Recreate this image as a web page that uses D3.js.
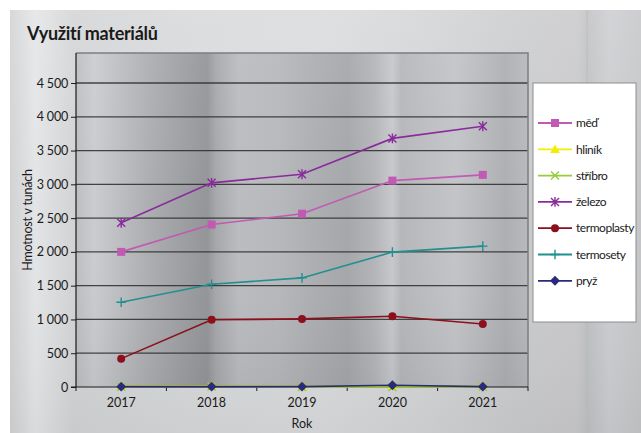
<!DOCTYPE html>
<html>
<head>
<meta charset="utf-8">
<script src="https://cdn.jsdelivr.net/npm/d3@7"></script>
<style>
  html, body { margin: 0; padding: 0; background: #ffffff; }
  svg { display: block; }
  text { font-family: Lato, "Open Sans", sans-serif; fill: #1a1a1a; }
</style>
</head>
<body>
<svg id="chart" width="641" height="433"></svg>
<script>
// Roky na ose X
const years = ["2017", "2018", "2019", "2020", "2021"];

// Série – hmotnost v tunách
const med         = [2000, 2405, 2565, 3055, 3140];
const hlinik      = [15, 15, 5, 8, 5];
const stribro     = [5, 8, 0, 0, 5];
const zelezo      = [2430, 3022, 3150, 3680, 3860];
const termoplasty = [420, 995, 1008, 1048, 932];
const termosety   = [1255, 1522, 1615, 1997, 2085];
const pryz        = [5, 5, 5, 25, 5];

// Popisky osy Y
const yTicks = [0, 500, 1000, 1500, 2000, 2500, 3000, 3500, 4000, 4500];

const series = [
  { name: "měď",         values: med,         color: "#c25ab4", marker: "square" },
  { name: "hliník",      values: hlinik,      color: "#f2ee00", marker: "triangle" },
  { name: "stříbro",     values: stribro,     color: "#97cc3a", marker: "x" },
  { name: "železo",      values: zelezo,      color: "#8a2b9c", marker: "star" },
  { name: "termoplasty", values: termoplasty, color: "#8c0f1c", marker: "circle" },
  { name: "termosety",   values: termosety,   color: "#21908f", marker: "plus" },
  { name: "pryž",        values: pryz,        color: "#2a2a7c", marker: "diamond" }
];

const svg = d3.select("#chart");
const defs = svg.append("defs");

// Kovový podklad celého grafu
const outerGrad = defs.append("linearGradient").attr("id", "outerGrad")
  .attr("x1", "0").attr("y1", "0").attr("x2", "1").attr("y2", "0");
[[0, "#cfd1d3"], [0.04, "#e3e4e6"], [0.1, "#d2d3d5"], [0.3, "#d7d8da"], [0.5, "#d9dadc"],
 [0.65, "#d3d4d6"], [0.8, "#cacbcd"], [0.9, "#c8c8ca"], [0.915, "#bfc0c2"], [0.95, "#cbcccf"], [1, "#c4c5c7"]]
  .forEach(([o, c]) => outerGrad.append("stop").attr("offset", o).attr("stop-color", c));

const outerShade = defs.append("linearGradient").attr("id", "outerShade")
  .attr("x1", "0").attr("y1", "0").attr("x2", "0").attr("y2", "1");
[[0, "#ffffff", 0.15], [0.5, "#ffffff", 0], [1, "#000000", 0.04]]
  .forEach(([o, c, a]) => outerShade.append("stop").attr("offset", o).attr("stop-color", c).attr("stop-opacity", a));

// Broušený kov v ploše grafu
const plotGrad = defs.append("linearGradient").attr("id", "plotGrad")
  .attr("x1", "0").attr("y1", "0").attr("x2", "1").attr("y2", "0");
[[0, "#bcbec1"], [0.04, "#cacccf"], [0.08, "#c0c2c5"], [0.16, "#acaeb1"], [0.24, "#9c9ea1"],
 [0.29, "#939598"], [0.31, "#a6a8ab"], [0.36, "#babcbf"], [0.45, "#b6b8bb"], [0.52, "#adafb2"],
 [0.6, "#a5a7aa"], [0.66, "#b3b5b8"], [0.7, "#c6c8cb"], [0.72, "#b5b7ba"], [0.78, "#bcbec1"],
 [0.84, "#c2c4c7"], [0.9, "#b7b9bc"], [0.95, "#adafb2"], [1, "#b7b9bc"]]
  .forEach(([o, c]) => plotGrad.append("stop").attr("offset", o).attr("stop-color", c));

const plotShade = defs.append("linearGradient").attr("id", "plotShade")
  .attr("x1", "0").attr("y1", "0").attr("x2", "0").attr("y2", "1");
[[0, "#ffffff", 0.06], [0.5, "#ffffff", 0], [1, "#000000", 0.05]]
  .forEach(([o, c, a]) => plotShade.append("stop").attr("offset", o).attr("stop-color", c).attr("stop-opacity", a));

// Podklad
svg.append("rect").attr("x", 10).attr("y", 10).attr("width", 631).attr("height", 423).attr("fill", "url(#outerGrad)");
svg.append("rect").attr("x", 10).attr("y", 10).attr("width", 631).attr("height", 423).attr("fill", "url(#outerShade)");
svg.append("line").attr("x1", 587).attr("x2", 587).attr("y1", 10).attr("y2", 433)
  .attr("stroke", "#b8b9bb").attr("stroke-width", 1).attr("opacity", 0.6);

// Plocha grafu
const plot = { left: 76, right: 528, top: 53, bottom: 387 };
svg.append("rect").attr("x", plot.left).attr("y", plot.top)
  .attr("width", plot.right - plot.left).attr("height", plot.bottom - plot.top)
  .attr("fill", "url(#plotGrad)");
svg.append("rect").attr("x", plot.left).attr("y", plot.top)
  .attr("width", plot.right - plot.left).attr("height", plot.bottom - plot.top)
  .attr("fill", "url(#plotShade)");

const x = d3.scaleBand().domain(years).range([plot.left, plot.right]).padding(0);
const y = d3.scaleLinear().domain([0, 4500]).range([plot.bottom, 83]);
const cx = d => x(d) + x.bandwidth() / 2;

// Mřížka
svg.append("g").selectAll("line").data(yTicks.filter(t => t > 0)).join("line")
  .attr("x1", plot.left).attr("x2", plot.right)
  .attr("y1", d => y(d)).attr("y2", d => y(d))
  .attr("stroke", "#2b2b2b").attr("stroke-width", 1.3).attr("opacity", 0.85);

// Okraj plochy (nahoře a vpravo)
svg.append("path")
  .attr("d", `M${plot.left},${plot.top}H${plot.right}V${plot.bottom}`)
  .attr("fill", "none").attr("stroke", "#7c7d80").attr("stroke-width", 1.5);

// Osa Y
const loc = d3.formatLocale({ decimal: ",", thousands: "\u00a0", grouping: [3], currency: ["", ""] });
const yAxis = svg.append("g").attr("transform", `translate(${plot.left},0)`)
  .call(d3.axisLeft(y).tickValues(yTicks).tickFormat(loc.format(",d")).tickSize(5).tickPadding(3));
yAxis.select(".domain").remove();
yAxis.selectAll("line").attr("stroke", "#1a1a1a");
yAxis.selectAll("text").attr("font-size", 12.5).attr("fill", "#1a1a1a").attr("letter-spacing", -0.2);
svg.append("line").attr("x1", plot.left).attr("x2", plot.left).attr("y1", plot.top).attr("y2", plot.bottom)
  .attr("stroke", "#1a1a1a").attr("stroke-width", 1.2);

// Osa X
const xAxis = svg.append("g").attr("transform", `translate(0,${plot.bottom})`)
  .call(d3.axisBottom(x).tickSize(0).tickPadding(11));
xAxis.select(".domain").remove();
xAxis.selectAll("text").attr("font-size", 12.5).attr("fill", "#1a1a1a");
svg.append("line").attr("x1", plot.left - 5).attr("x2", plot.right).attr("y1", plot.bottom).attr("y2", plot.bottom)
  .attr("stroke", "#1a1a1a").attr("stroke-width", 1.2);
const bounds = years.map(d => x(d)).concat([x(years[years.length - 1]) + x.bandwidth()]);
svg.append("g").selectAll("line").data(bounds).join("line")
  .attr("x1", d => d).attr("x2", d => d).attr("y1", plot.bottom).attr("y2", plot.bottom + 4)
  .attr("stroke", "#1a1a1a").attr("stroke-width", 1);

// Značky
function drawMarker(g, type, color, size) {
  const s = size;
  switch (type) {
    case "square":
      g.append("rect").attr("x", -s / 2).attr("y", -s / 2).attr("width", s).attr("height", s).attr("fill", color);
      break;
    case "triangle":
      g.append("path").attr("d", `M0,${-s * 0.6}L${s * 0.6},${s * 0.45}L${-s * 0.6},${s * 0.45}Z`).attr("fill", color);
      break;
    case "x":
      g.append("path").attr("d", `M${-s / 2},${-s / 2}L${s / 2},${s / 2}M${-s / 2},${s / 2}L${s / 2},${-s / 2}`)
        .attr("stroke", color).attr("stroke-width", 1.4);
      break;
    case "star":
      g.append("path").attr("d", `M${-s / 2},${-s / 2}L${s / 2},${s / 2}M${-s / 2},${s / 2}L${s / 2},${-s / 2}M0,${-s * 0.62}V${s * 0.62}`)
        .attr("stroke", color).attr("stroke-width", 1.4);
      break;
    case "circle":
      g.append("circle").attr("r", s / 2).attr("fill", color);
      break;
    case "plus":
      g.append("path").attr("d", `M${-s * 0.6},0H${s * 0.6}M0,${-s * 0.6}V${s * 0.6}`)
        .attr("stroke", color).attr("stroke-width", 1.4);
      break;
    case "diamond":
      g.append("path").attr("d", `M0,${-s * 0.62}L${s * 0.62},0L0,${s * 0.62}L${-s * 0.62},0Z`).attr("fill", color);
      break;
  }
}

const line = d3.line().x((d, i) => cx(years[i])).y(d => y(d));
const seriesG = svg.append("g");
series.forEach(s => {
  seriesG.append("path").attr("d", line(s.values)).attr("fill", "none")
    .attr("stroke", s.color).attr("stroke-width", 1.6);
});
series.forEach(s => {
  s.values.forEach((v, i) => {
    const g = seriesG.append("g").attr("transform", `translate(${cx(years[i])},${y(v)})`);
    drawMarker(g, s.marker, s.color, 8);
  });
});

// Legenda
const legend = svg.append("g");
legend.append("rect").attr("x", 533).attr("y", 83).attr("width", 103).attr("height", 239)
  .attr("fill", "#ffffff").attr("stroke", "#8c8d90").attr("stroke-width", 1);
series.forEach((s, i) => {
  const ly = 123 + i * 26.3;
  const g = legend.append("g").attr("transform", `translate(0,${ly})`);
  g.append("line").attr("x1", 538).attr("x2", 572).attr("y1", 0).attr("y2", 0)
    .attr("stroke", s.color).attr("stroke-width", 1.8);
  const mg = g.append("g").attr("transform", "translate(555,0)");
  drawMarker(mg, s.marker, s.color, 8);
  g.append("text").attr("x", 576).attr("y", 0).attr("dy", "0.35em")
    .attr("font-size", 12).attr("letter-spacing", -0.45).text(s.name);
});

// Titulek a popisky os
svg.append("text").attr("x", 27).attr("y", 40).attr("font-size", 18).attr("font-weight", "bold")
  .attr("letter-spacing", -0.3).text("Využití materiálů");
svg.append("text").attr("x", (plot.left + plot.right) / 2).attr("y", 428).attr("text-anchor", "middle")
  .attr("font-size", 12.5).text("Rok");
svg.append("text").attr("transform", "translate(32,220) rotate(-90)").attr("text-anchor", "middle")
  .attr("font-size", 12.5).attr("letter-spacing", -0.2).text("Hmotnost v tunách");
</script>
</body>
</html>
